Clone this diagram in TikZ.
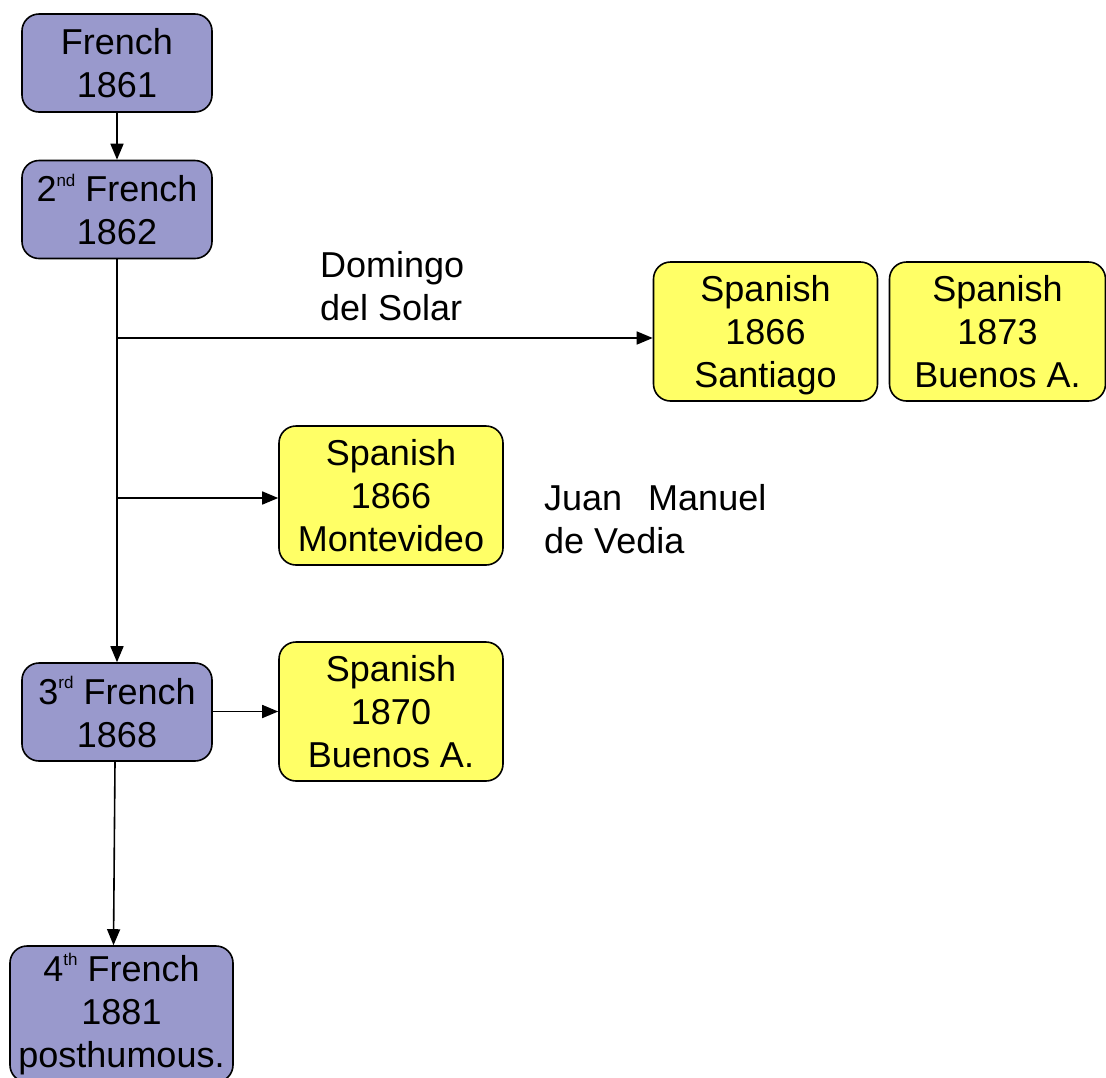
\documentclass[tikz,border=0pt]{standalone}
\usepackage{fontspec}
\setmainfont{Liberation Sans}
\usetikzlibrary{arrows.meta}
\definecolor{fr}{HTML}{9999CC}
\definecolor{sp}{HTML}{FFFF66}
\newcommand{\sups}[1]{\raisebox{0.8ex}{\fontsize{17}{17}\selectfont #1}}
\begin{document}
\begin{tikzpicture}[x=1pt,y=-1pt,
  every node/.style={font=\fontsize{36}{43}\selectfont, align=center, inner sep=0pt},
  bx/.style={draw=black, line width=1.6pt, rounded corners=17pt, minimum width=#1},
  frbox/.style={bx=190pt, fill=fr, minimum height=98pt},
  spbox/.style={bx=224pt, fill=sp, minimum height=139pt},
  conn/.style={line width=1.6pt, -{Triangle[length=16pt,width=13pt]}},
  lbl/.style={align=left, anchor=west}]
\useasboundingbox (0,0) rectangle (1106,1077);
\node[frbox] (f1) at (117,63) {French\\1861};
\node[frbox] (f2) at (117,209.5) {2\sups{nd} French\\1862};
\node[spbox, text depth=0pt] (s1) at (765.5,331.5) {Spanish\\1866\\Santiago};
\node[spbox, minimum width=216pt] (s2) at (997.5,331.5) {Spanish\\1873\\Buenos A.};
\node[spbox] (s3) at (391,495.5) {Spanish\\1866\\Montevideo};
\node[frbox] (f3) at (117,712) {3\sups{rd} French\\1868};
\node[spbox] (s4) at (391,711.5) {Spanish\\1870\\Buenos A.};
\node[bx=223pt, fill=fr, minimum height=136pt] (f4) at (121.5,1014) {4\sups{th} French\\1881\\posthumous.};
\node[lbl] (l1) at (320,286.5) {Domingo\\del Solar};
\node[lbl] (l2) at (544,519.5) {Juan\hspace{26pt}Manuel\\de Vedia};
\coordinate (j1) at (117,338);
\coordinate (j2) at (117,498);
\draw[conn] (f1.south) -- (f2.north);
\draw[conn] (f2.south) -- (f3.north);
\draw[conn] (j1) -- (s1.west |- j1);
\draw[conn] (j2) -- (s3.west |- j2);
\draw[conn] (f3.east |- s4.west) -- (s4.west);
\draw[conn] ([xshift=-2pt]f3.south) -- ([xshift=-8pt]f4.north);
\end{tikzpicture}
\end{document}
